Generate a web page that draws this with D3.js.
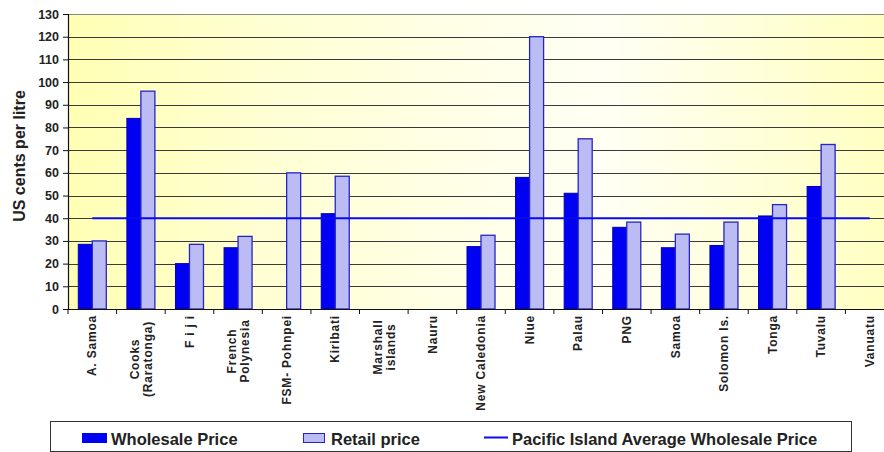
<!DOCTYPE html>
<html>
<head>
<meta charset="utf-8">
<script src="https://cdn.jsdelivr.net/npm/d3@7"></script>
<style>
  body { margin: 0; background: #fff; }
  svg { display: block; font-family: "Liberation Sans", Arial, sans-serif; }
</style>
</head>
<body>
<svg class="chart"></svg>
<script>
// data
var categories = ["A. Samoa", "Cooks (Raratonga)", "F i j i", "French Polynesia", "FSM- Pohnpei",
  "Kiribati", "Marshall islands", "Nauru", "New Caledonia", "Niue", "Palau", "PNG",
  "Samoa", "Solomon Is.", "Tonga", "Tuvalu", "Vanuatu"];
var labelLines = [["A. Samoa"], ["Cooks", "(Raratonga)"], ["F i j i"], ["French", "Polynesia"], ["FSM- Pohnpei"],
  ["Kiribati"], ["Marshall", "islands"], ["Nauru"], ["New Caledonia"], ["Niue"], ["Palau"], ["PNG"],
  ["Samoa"], ["Solomon Is."], ["Tonga"], ["Tuvalu"], ["Vanuatu"]];
var wholesale = [28.5, 84, 20, 27, null, 42, null, null, 27.5, 58, 51, 36, 27, 28, 41, 54, null];
var retail = [30, 96, 28.5, 32, 60, 58.5, null, null, 32.5, 120, 75, 38.3, 33, 38.3, 46, 72.5, null];
var average = 40;
var yTicks = [0, 10, 20, 30, 40, 50, 60, 70, 80, 90, 100, 110, 120, 130];
var seriesNames = ["Wholesale Price", "Retail price", "Pacific Island Average Wholesale Price"];

var W = 884, H = 452;
var pLeft = 68, pRight = 894, pTop = 14, pBottom = 309;

var svg = d3.select(".chart").attr("width", W).attr("height", H);

var defs = svg.append("defs");
var grad = defs.append("linearGradient").attr("id", "bg")
  .attr("x1", "0%").attr("x2", "100%").attr("y1", "0%").attr("y2", "0%");
grad.append("stop").attr("offset", "0%").attr("stop-color", "#ffffb4");
grad.append("stop").attr("offset", "25%").attr("stop-color", "#ffffd4");
grad.append("stop").attr("offset", "65%").attr("stop-color", "#fffff4");
grad.append("stop").attr("offset", "100%").attr("stop-color", "#ffffc0");

var x = d3.scaleBand().domain(categories).range([pLeft, pRight]).padding(0);
var xs = d3.scaleBand().domain(["w", "r"]).range([0, x.bandwidth()]).paddingOuter(0.734).paddingInner(0);
var y = d3.scaleLinear().domain([0, 130]).range([pBottom, pTop]);

// plot background
svg.append("rect")
  .attr("x", pLeft).attr("y", pTop)
  .attr("width", pRight - pLeft).attr("height", pBottom - pTop)
  .attr("fill", "url(#bg)");

// gridlines
svg.append("g").selectAll("line").data(yTicks.filter(function(d){ return d > 0; }))
  .enter().append("line")
  .attr("x1", pLeft).attr("x2", pRight)
  .attr("y1", function(d){ return Math.round(y(d)) + 0.5; })
  .attr("y2", function(d){ return Math.round(y(d)) + 0.5; })
  .attr("stroke", function(d){ return d == 130 ? "#8a8a7a" : "#3a3a3a"; })
  .attr("stroke-width", 1);

// bars
var gw = svg.append("g");
categories.forEach(function(c, i){
  if (wholesale[i] != null) {
    gw.append("rect")
      .attr("x", x(c) + xs("w")).attr("y", y(wholesale[i]))
      .attr("width", xs.bandwidth()).attr("height", y(0) - y(wholesale[i]))
      .attr("fill", "#0000f2").attr("stroke", "#0000b0").attr("stroke-width", 1);
  }
  if (retail[i] != null) {
    gw.append("rect")
      .attr("x", x(c) + xs("r")).attr("y", y(retail[i]))
      .attr("width", xs.bandwidth()).attr("height", y(0) - y(retail[i]))
      .attr("fill", "#bcbcf4").attr("stroke", "#2424c8").attr("stroke-width", 1.3);
  }
});

// average line (category centre to category centre)
svg.append("line")
  .attr("x1", x(categories[0]) + x.bandwidth() / 2)
  .attr("x2", x(categories[categories.length - 1]) + x.bandwidth() / 2)
  .attr("y1", y(average)).attr("y2", y(average))
  .attr("stroke", "#0a0af0").attr("stroke-width", 2);

// y axis
var yAxis = d3.axisLeft(y).tickValues(yTicks).tickSize(5).tickPadding(4);
var ga = svg.append("g").attr("transform", "translate(" + pLeft + ",0)").call(yAxis);
ga.select(".domain").attr("stroke", "#111").attr("stroke-width", 1.2);
ga.selectAll(".tick line").attr("stroke", "#111");
ga.selectAll("text").attr("font-size", 12.5).attr("font-weight", "bold").attr("fill", "#222")
  .attr("font-family", "Liberation Sans, Arial, sans-serif");

// x axis with ticks at band edges
var gx = svg.append("g").attr("transform", "translate(0," + pBottom + ")");
gx.append("line").attr("x1", pLeft).attr("x2", pRight).attr("y1", 0.5).attr("y2", 0.5)
  .attr("stroke", "#111").attr("stroke-width", 1.2);
gx.selectAll(".xt").data(categories).enter().append("line").attr("class", "xt")
  .attr("x1", function(d){ return x(d); }).attr("x2", function(d){ return x(d); })
  .attr("y1", 0).attr("y2", 5).attr("stroke", "#111");

// category labels, rotated
categories.forEach(function(c, i){
  var lines = labelLines[i];
  var cx = x(c) + x.bandwidth() / 2;
  var n = lines.length;
  var t = gx.append("text")
    .attr("transform", "translate(" + cx + ",6) rotate(-90)")
    .attr("font-size", 12).attr("font-weight", "bold").attr("fill", "#222")
    .attr("letter-spacing", 0.8);
  if (n == 1) {
    t.attr("text-anchor", "end").attr("dy", "0.35em").text(lines[0]);
  } else {
    // centre the lines on the longest one
    var longest = d3.max(lines, function(s){ return s.length; });
    lines.forEach(function(s, k){
      t.append("tspan")
        .attr("x", -longest * 4)
        .attr("y", (k - (n - 1) / 2) * 13)
        .attr("dy", "0.35em")
        .attr("text-anchor", "middle")
        .text(s);
    });
  }
});

// y title
svg.append("text")
  .attr("transform", "translate(25," + 156 + ") rotate(-90)")
  .attr("text-anchor", "middle")
  .attr("font-size", 16).attr("font-weight", "bold").attr("fill", "#222")
  .text("US cents per litre");

// legend
var lg = svg.append("g");
lg.append("rect").attr("x", 50.5).attr("y", 421.5).attr("width", 801).attr("height", 30)
  .attr("fill", "#fff").attr("stroke", "#333").attr("stroke-width", 1);
lg.append("rect").attr("x", 82).attr("y", 433).attr("width", 25).attr("height", 10)
  .attr("fill", "#0000f2");
lg.append("rect").attr("x", 303.5).attr("y", 433.5).attr("width", 21).attr("height", 9)
  .attr("fill", "#bcbcf4").attr("stroke", "#2424c8");
lg.append("line").attr("x1", 484).attr("x2", 508).attr("y1", 437.5).attr("y2", 437.5)
  .attr("stroke", "#0a0af0").attr("stroke-width", 2);
var lx = [111, 331, 512];
seriesNames.forEach(function(s, i){
  lg.append("text").attr("x", lx[i]).attr("y", 445)
    .attr("font-size", 16.5).attr("font-weight", "bold").attr("fill", "#222")
    .text(s);
});
</script>
</body>
</html>
